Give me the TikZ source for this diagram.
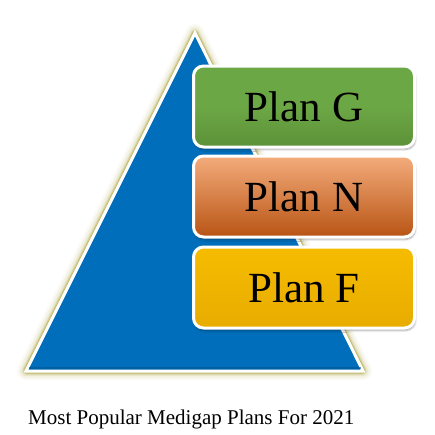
\documentclass[tikz,border=0pt]{standalone}
\usepackage{fontspec}
\setmainfont{Liberation Serif}
\usetikzlibrary{shadows.blur}
\definecolor{pyrblue}{RGB}{0,110,186}
\definecolor{pyrdark}{RGB}{0,88,150}
\definecolor{glowcol}{RGB}{165,155,50}
\definecolor{planGcol}{RGB}{108,167,69}
\definecolor{planGdark}{RGB}{92,145,56}
\definecolor{planNtop}{RGB}{244,172,124}
\definecolor{planNmid}{RGB}{228,122,58}
\definecolor{planNbot}{RGB}{184,84,20}
\definecolor{planFcol}{RGB}{246,188,0}
\definecolor{planFdark}{RGB}{232,172,0}

\begin{document}
\begin{tikzpicture}[x=1pt,y=-1pt,
    plan/.style={draw=white,line width=3pt,rounded corners=10pt,
        minimum width=221pt,minimum height=81pt,inner sep=0pt,
        font=\fontsize{43}{50}\selectfont,
        blur shadow={shadow xshift=1pt,shadow yshift=-2.5pt,shadow opacity=35}}]
    \useasboundingbox (0,0) rectangle (435,434);
    % pyramid
    \coordinate (apex) at (195,33);
    \coordinate (botleft) at (26,371);
    \coordinate (botright) at (363,371);
    \begin{scope}[yshift=-1.5pt]
    \foreach \w/\o in {18/0.05,14/0.08,10/0.14,7/0.25,5/0.45}
        \draw[glowcol,line width=\w pt,opacity=\o,line join=round] (apex)--(botleft)--(botright)--cycle;
    \end{scope}
    \draw[fill=pyrblue,draw=white,line width=3pt] (apex)--(botleft)--(botright)--cycle;
    \draw[pyrdark,line width=2pt,opacity=0.6] ([shift={(2.5,-3)}]botleft)--([shift={(-2.5,-3)}]botright);
    % plans
    \node[plan,top color=planGcol,bottom color=planGdark,middle color=planGcol] (planG) at (304,106.5) {Plan G};
    \node[plan,top color=planNtop,middle color=planNmid,bottom color=planNbot] (planN) at (304,196.5) {Plan N};
    \node[plan,top color=planFcol,middle color=planFcol,bottom color=planFdark] (planF) at (304,287.5) {Plan F};
    \node[anchor=base west,inner sep=0pt,font=\fontsize{21}{25}\selectfont] (caption) at (28,424) {Most Popular Medigap Plans For 2021};
\end{tikzpicture}
\end{document}
